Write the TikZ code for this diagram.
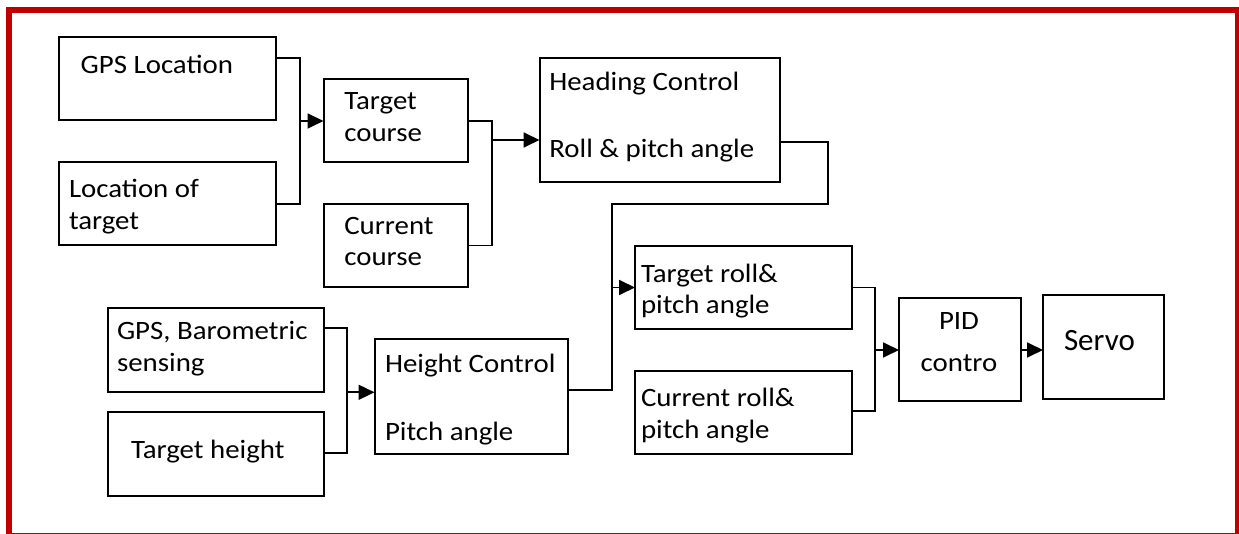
\documentclass[tikz,border=0pt]{standalone}
\usepackage{fontspec}
\setmainfont[FakeStretch=1.09]{Carlito}
\newfontfamily\servofont{Carlito}
\usetikzlibrary{arrows.meta}
\definecolor{framered}{RGB}{192,0,0}
\tikzset{
  box/.style={draw=black, line width=2pt, rectangle, inner sep=0pt, outer sep=0pt},
  lbl/.style={anchor=base west, inner sep=0pt, outer sep=0pt, font=\fontsize{26.5}{30}\selectfont},
  clbl/.style={anchor=base, inner sep=0pt, outer sep=0pt, font=\fontsize{26.5}{30}\selectfont},
  wire/.style={line width=1.8pt, line join=miter},
  arr/.style={wire, -{Triangle[length=16pt,width=15pt]}},
}
\begin{document}
\begin{tikzpicture}[x=1pt,y=-1pt]
\useasboundingbox (0,0) rectangle (1239,534);
% frame
\fill[framered] (6,6.7) rectangle (1239,12.7);
\fill[framered] (6,6.7) rectangle (11.7,534);
\fill[framered] (1235,6.7) rectangle (1239,534);
\fill[framered] (6,532.5) rectangle (1239,534);
% boxes
\node[box, minimum width=217pt, minimum height=83pt] (gps) at (167.5,79) {};
\node[box, minimum width=217pt, minimum height=83pt] (loc) at (167.5,204) {};
\node[box, minimum width=144pt, minimum height=83pt] (tc) at (395.5,121) {};
\node[box, minimum width=144pt, minimum height=83pt] (cc) at (395.5,245.5) {};
\node[box, minimum width=240.5pt, minimum height=124pt] (head) at (659.75,120.5) {};
\node[box, minimum width=216pt, minimum height=83.5pt] (baro) at (215.5,349.75) {};
\node[box, minimum width=216pt, minimum height=83.5pt] (th) at (215.5,453.75) {};
\node[box, minimum width=193pt, minimum height=115pt] (hc) at (471,396.5) {};
\node[box, minimum width=217pt, minimum height=83pt] (tr) at (743.5,287.5) {};
\node[box, minimum width=217pt, minimum height=83pt] (cr) at (743.5,412.5) {};
\node[box, minimum width=121.5pt, minimum height=103pt] (pid) at (959.75,349.5) {};
\node[box, minimum width=121pt, minimum height=104pt] (servo) at (1103.5,347) {};
% texts
\node[lbl] (t1) at (80.7,74) {GPS Location};
\node[lbl] (t2) at (69,197.7) {Location of};
\node[lbl] (t3) at (69,230) {target};
\node[lbl] (t4) at (344.3,110) {Target};
\node[lbl] (t5) at (344.3,141.7) {course};
\node[lbl] (t6) at (344.3,234.3) {Current};
\node[lbl] (t7) at (344.3,266) {course};
\node[lbl] (t8) at (549.3,91) {Heading Control};
\node[lbl] (t9) at (549.3,157.5) {Roll \& pitch angle};
\node[lbl] (t10) at (117,339.5) {GPS, Barometric};
\node[lbl] (t11) at (117,371) {sensing};
\node[lbl] (t12) at (131,458) {Target height};
\node[lbl] (t13) at (385,372.3) {Height Control};
\node[lbl] (t14) at (385,440) {Pitch angle};
\node[lbl] (t15) at (641,282.3) {Target roll\&};
\node[lbl] (t16) at (641,313.3) {pitch angle};
\node[lbl] (t17) at (641,406.7) {Current roll\&};
\node[lbl] (t18) at (641,438.3) {pitch angle};
\node[clbl] (t19) at (959,330) {PID};
\node[clbl] (t20) at (959,371.7) {contro};
\node[anchor=base west, inner sep=0pt, outer sep=0pt, font=\servofont\fontsize{31}{36}\selectfont] (t21) at (1064,350.7) {Servo};
% junction coordinates
\coordinate (b1a) at (300,58.3);
\coordinate (b1b) at (300,204);
\coordinate (j1) at (300,121);
\coordinate (j2) at (491.7,140);
\coordinate (k0) at (827.7,141.7);
\coordinate (k1) at (827.7,204);
\coordinate (k2) at (611.7,204);
\coordinate (k3) at (611.7,390);
\coordinate (j3) at (611.7,287.5);
\coordinate (m1) at (347.3,328.3);
\coordinate (m2) at (347.3,453.3);
\coordinate (j4) at (347.3,392.3);
\coordinate (n1) at (875.3,287.5);
\coordinate (n2) at (875.3,411);
\coordinate (j5) at (875.3,350);
% connectors
\draw[wire] (gps.east |- b1a) -- (b1a) -- (b1b) -- (loc.east |- b1b);
\draw[arr] (j1) -- (tc.west |- j1);
\draw[wire] (tc.east) -- (tc.east -| j2) -- (j2 |- cc.east) -- (cc.east);
\draw[arr] (j2) -- (head.west |- j2);
\draw[wire] (head.east |- k0) -- (k0) -- (k1) -- (k2) -- (k3) -- (hc.east |- k3);
\draw[arr] (j3) -- (tr.west |- j3);
\draw[wire] (baro.east |- m1) -- (m1) -- (m2) -- (th.east |- m2);
\draw[arr] (j4) -- (hc.west |- j4);
\draw[wire] (tr.east |- n1) -- (n1) -- (n2) -- (cr.east |- n2);
\draw[arr] (j5) -- (pid.west |- j5);
\draw[arr] (pid.east |- j5) -- (servo.west |- j5);
\end{tikzpicture}
\end{document}
